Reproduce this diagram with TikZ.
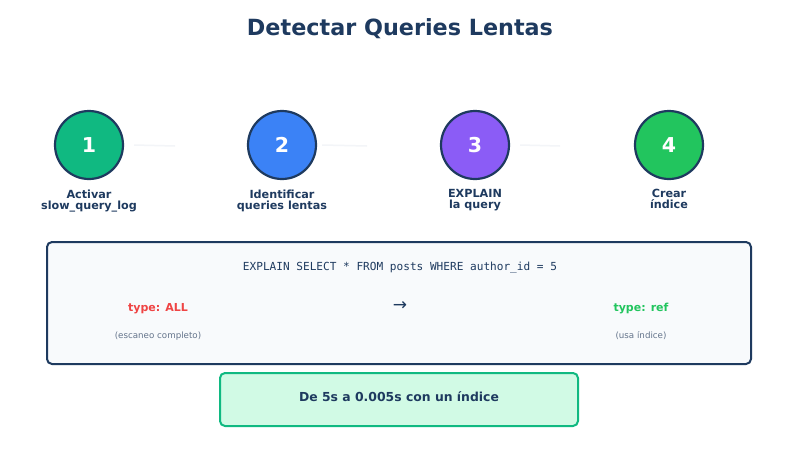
\documentclass[tikz,border=0pt]{standalone}
\usepackage{fontspec}
\setmainfont{DejaVu Sans}
\newfontfamily\codefont{DejaVu Sans Mono}
\begin{document}
\begin{tikzpicture}[x=1pt,y=-1pt,
  stepcircle/.style={circle,draw=navyc,line width=2.2pt,minimum size=68pt,inner sep=0pt,text=white,font=\bfseries\fontsize{20.5}{24}\selectfont},
  steplabel/.style={text=navyc,font=\bfseries\fontsize{11.2}{11}\selectfont,align=center,anchor=north},
  faint/.style={draw=faintc,line width=1.5pt},
  smallgray/.style={text=grayc,font=\fontsize{8.7}{10}\selectfont}
]
\definecolor{navyc}{HTML}{1E3A5F}
\definecolor{c1}{HTML}{10B981}
\definecolor{c2}{HTML}{3B82F6}
\definecolor{c3}{HTML}{8B5CF6}
\definecolor{c4}{HTML}{22C55E}
\definecolor{faintc}{HTML}{F3F5F8}
\definecolor{grayc}{HTML}{64748B}
\definecolor{redc}{HTML}{EF4444}
\definecolor{boxfill}{HTML}{F8FAFC}
\definecolor{resfill}{HTML}{D1FAE5}
\useasboundingbox (0,0) rectangle (800,450);
\fill[white] (0,0) rectangle (800,450);

\node[text=navyc,font=\bfseries\fontsize{22.3}{26}\selectfont] (title) at (400,29) {Detectar Queries Lentas};

\node[stepcircle,fill=c1] (s1) at (89,145) {1};
\node[stepcircle,fill=c2] (s2) at (282,145) {2};
\node[stepcircle,fill=c3] (s3) at (475,145) {3};
\node[stepcircle,fill=c4] (s4) at (669,145) {4};

\coordinate (e1) at (175,146);
\coordinate (e2) at (367,146);
\coordinate (e3) at (560,146);
\draw[faint] ([xshift=10pt]s1.east) -- (e1);
\draw[faint] ([xshift=5pt]s2.east) -- (e2);
\draw[faint] ([xshift=10pt]s3.east) -- (e3);

\node[steplabel] (l1) at (89,186) {Activar\\slow\_query\_log};
\node[steplabel] (l2) at (282,186) {Identificar\\queries lentas};
\node[steplabel] (l3) at (475,186) {EXPLAIN\\la query};
\node[steplabel] (l4) at (669,186) {Crear\\índice};

\draw[draw=navyc,fill=boxfill,line width=2pt,rounded corners=5pt] (47,242) rectangle (751,364);
\node[text=navyc,font=\codefont\fontsize{11.1}{12}\selectfont] (code) at (400,267.5) {EXPLAIN SELECT * FROM posts WHERE author\_id = 5};
\node[text=redc,font=\bfseries\fontsize{11}{12}\selectfont] (all) at (158,308.5) {type: ALL};
\node[text=navyc,font=\fontsize{17}{18}\selectfont] (arr) at (400,306) {→};
\node[text=c4,font=\bfseries\fontsize{11}{12}\selectfont] (ref) at (641,308.5) {type: ref};
\node[smallgray] (allsub) at (158,336) {(escaneo completo)};
\node[smallgray] (refsub) at (641,336) {(usa índice)};

\draw[draw=c1,fill=resfill,line width=2pt,rounded corners=5pt] (220,373) rectangle (578,426);
\node[text=navyc,font=\bfseries\fontsize{12.4}{14}\selectfont] (res) at (399,396.5) {De 5s a 0.005s con un índice};
\end{tikzpicture}
\end{document}
